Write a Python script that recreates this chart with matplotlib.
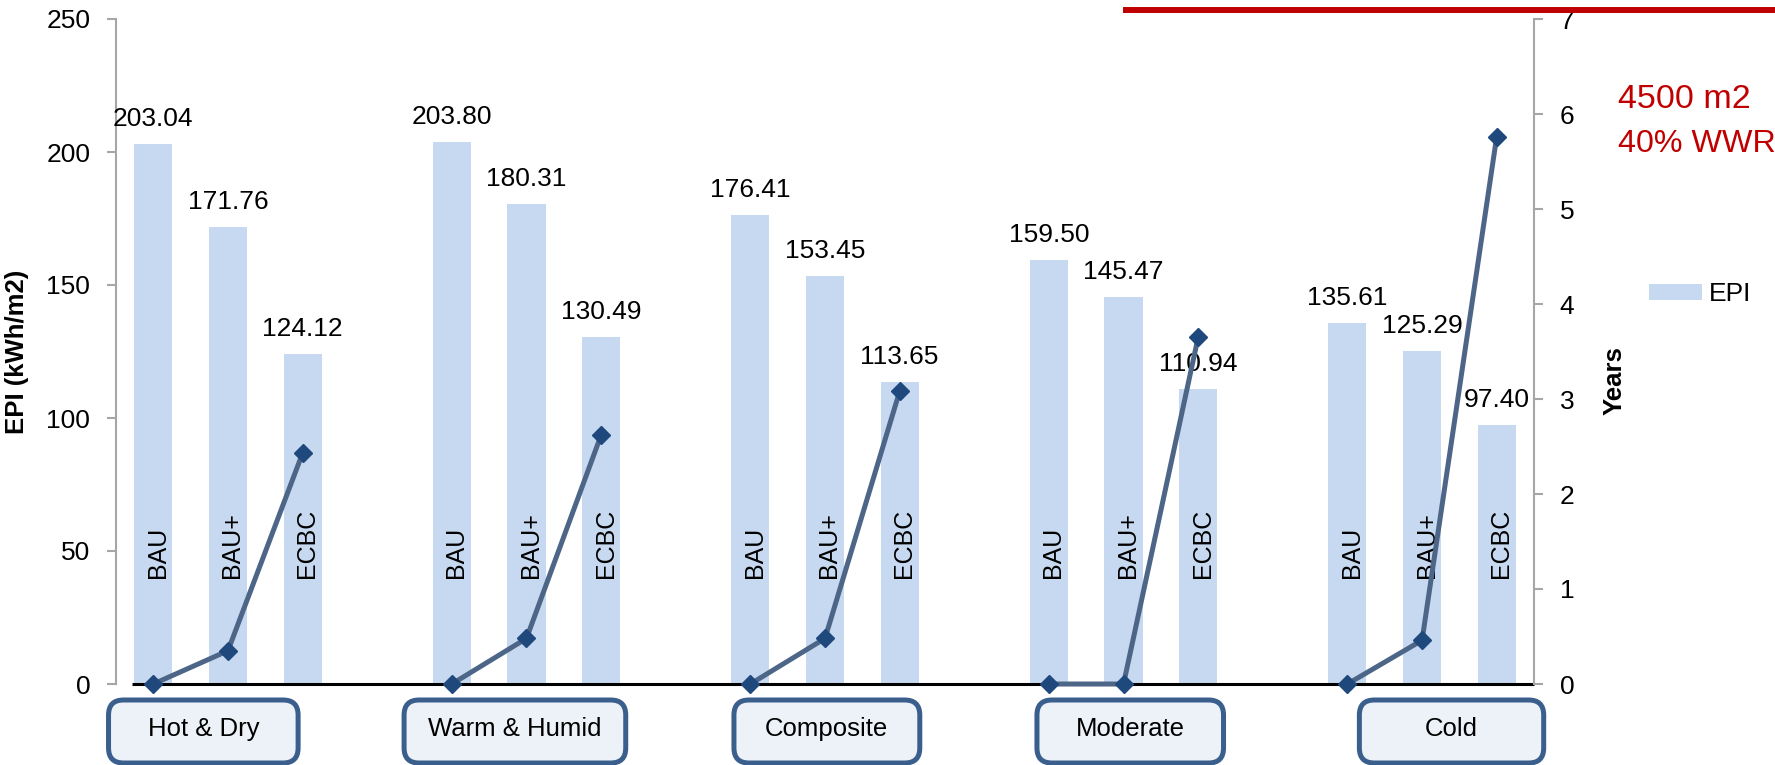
import matplotlib
matplotlib.use("Agg")
import matplotlib.pyplot as plt
from matplotlib.patches import FancyBboxPatch

plt.rcParams['font.family'] = ['Liberation Sans', 'DejaVu Sans']

zones = ["Hot & Dry", "Warm & Humid", "Composite", "Moderate", "Cold"]
cases = ["BAU", "BAU+", "ECBC"]
epi = [
    [203.04, 171.76, 124.12],
    [203.80, 180.31, 130.49],
    [176.41, 153.45, 113.65],
    [159.50, 145.47, 110.94],
    [135.61, 125.29, 97.40],
]
payback = [
    [0.0, 0.35, 2.43],
    [0.0, 0.48, 2.62],
    [0.0, 0.48, 3.08],
    [0.0, 0.0, 3.65],
    [0.0, 0.46, 5.76],
]

bar_col = "#c6d9f0"
line_col = "#4d6688"
mark_col = "#1f497d"
grey = "#a6a6a6"
fs = 19

W, H = 1775, 765
ax_left, ax_right, ax_top, ax_bot = 116, 1534, 19, 684

fig = plt.figure(figsize=(W / 100, H / 100), dpi=100)
ax = fig.add_axes([ax_left / W, (H - ax_bot) / H,
                   (ax_right - ax_left) / W, (ax_bot - ax_top) / H])
ax2 = ax.twinx()

for g, zone in enumerate(zones):
    xs = [g * 4 + k for k in range(3)]
    ax.bar(xs, epi[g], width=0.51, color=bar_col, zorder=1,
           label="EPI" if g == 0 else None)
    for x, v, c in zip(xs, epi[g], cases):
        ax.text(x, v + 6.8, f"{v:.2f}", ha="center", va="baseline", fontsize=fs)
        ax.text(x + 0.06, 40, c, rotation=90, ha="center", va="bottom", fontsize=18)
    ax2.plot(xs, payback[g], color=line_col, lw=3.6, marker="D", ms=9,
             mfc=mark_col, mec=mark_col, zorder=3, clip_on=False)

ax.set_xlim(-0.5, 18.5)
ax.set_ylim(0, 250)
ax2.set_ylim(0, 7)
ax.set_yticks(range(0, 251, 50))
ax2.set_yticks(range(0, 8))
ax.set_xticks([])

ax.hlines(0, -0.29, 18.5, color="black", lw=2.2, zorder=4, clip_on=False)

for a in (ax, ax2):
    for s in ("top", "bottom"):
        a.spines[s].set_visible(False)
ax.spines["right"].set_visible(False)
ax2.spines["left"].set_visible(False)
ax.spines["left"].set_color(grey)
ax.spines["left"].set_linewidth(1.5)
ax2.spines["right"].set_color(grey)
ax2.spines["right"].set_linewidth(1.5)
for a in (ax, ax2):
    a.tick_params(axis="y", colors=grey, labelcolor="black", length=6.5,
                  width=1.5, labelsize=fs, pad=12)

ax.set_ylabel("EPI (kWh/m2)", fontsize=18.5, fontweight="bold")
ax.yaxis.set_label_coords(-0.0614, 0.5)
ax2.set_ylabel("Years", fontsize=18.5, fontweight="bold")
ax2.yaxis.set_label_coords(1.0487, 0.457)

# zone name boxes under each group (pixel layout)
slot = (ax_right - ax_left) / 19
box_span = [(-0.60, 1.94), (3.36, 6.33), (7.78, 10.27), (11.84, 14.34), (16.16, 18.63)]
r = 15
for zone, (x0, x1) in zip(zones, box_span):
    p0 = ax_left + (x0 + 0.5) * slot
    p1 = ax_left + (x1 + 0.5) * slot
    box = FancyBboxPatch((p0 / W, 2 / H), (p1 - p0) / W, 63 / H,
                         boxstyle=f"round,pad=0,rounding_size={r / W}",
                         mutation_aspect=W / H,
                         transform=fig.transFigure, fc="#edf2f8", ec="#3a5f8d",
                         lw=3.6, clip_on=False)
    fig.add_artist(box)
    fig.text((p0 + p1) / 2 / W, 1 - 729 / H, zone, fontsize=18.5,
             ha="center", va="center")

# legend
ax.legend(loc="center left", bbox_to_anchor=(1.0645, 0.586), frameon=False,
          fontsize=fs, handlelength=2.0, handleheight=0.58, handletextpad=0.25)

# notes and red rule at the top
fig.text(1618 / W, 1 - 108 / H, "4500 m2", color="#c00000", fontsize=24.5,
         ha="left", va="baseline")
fig.text(1618 / W, 1 - 152 / H, "40% WWR", color="#c00000", fontsize=23.2,
         ha="left", va="baseline")
fig.add_artist(plt.Line2D([1126 / W, 1], [1 - 10 / H] * 2, color="#c00000",
                          lw=4.3, transform=fig.transFigure))

fig.savefig("out.png", dpi=100)
